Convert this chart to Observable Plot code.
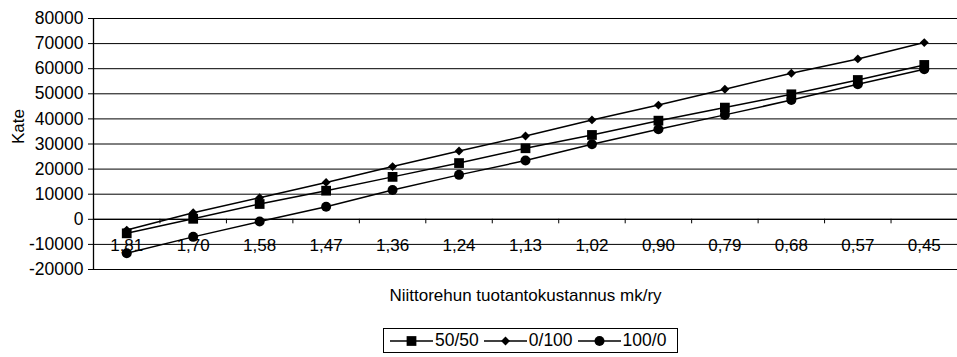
<!DOCTYPE html>
<html>
<head>
<meta charset="utf-8">
<script src="https://cdn.jsdelivr.net/npm/d3@7"></script>
<script src="https://cdn.jsdelivr.net/npm/@observablehq/plot@0.6"></script>
<style>
  html, body { margin: 0; padding: 0; background: #fff; }
  body { width: 957px; height: 357px; position: relative; overflow: hidden; font-family: "Liberation Sans", Arial, sans-serif; }
  #legend { position: absolute; left: 383px; top: 328px; width: 295px; height: 25px; border: 1px solid #000; box-sizing: border-box;
            display: flex; align-items: center; padding: 0 0 0 6px; font-size: 17.5px; color: #000; background: #fff; white-space: nowrap; }
  #legend .item { display: flex; align-items: center; margin-right: 5px; }
  #legend svg { display: block; margin-right: 2px; }
</style>
</head>
<body>
<div id="chart"></div>
<div id="legend"></div>
<script>
const categories = ["1,81","1,70","1,58","1,47","1,36","1,24","1,13","1,02","0,90","0,79","0,68","0,57","0,45"];
const seriesNames = ["50/50", "0/100", "100/0"];
const s5050 = [-5600, 200, 6100, 11400, 16900, 22400, 28300, 33600, 39300, 44500, 49800, 55500, 61500];
const s0100 = [-4300, 2600, 8600, 14700, 21000, 27200, 33200, 39600, 45500, 51800, 58200, 63900, 70400];
const s1000 = [-13500, -7000, -900, 5000, 11700, 17700, 23400, 29900, 35900, 41600, 47500, 53800, 59800];
const yTicks = [-20000, -10000, 0, 10000, 20000, 30000, 40000, 50000, 60000, 70000, 80000];

const seriesValues = [s5050, s0100, s1000];
const symbols = ["square", "diamond2", "circle"];
const radii = [5.5, 4, 5];

const rows = [];
seriesNames.forEach((name, s) => {
  seriesValues[s].forEach((v, i) => rows.push({series: name, i, value: v}));
});
const idx = categories.map((c, i) => ({i, label: c}));
const bounds = categories.slice(1).map((c, i) => i + 0.5);

const font = "Liberation Sans, Arial, sans-serif";

const chart = Plot.plot({
  width: 957,
  height: 318,
  marginTop: 18,
  marginLeft: 93,
  marginRight: 0,
  marginBottom: 49,
  style: {fontFamily: font, fontSize: "16px", color: "#000", background: "#fff"},
  x: {type: "linear", domain: [-0.5, categories.length - 0.5], axis: null},
  y: {domain: [-20000, 80000], axis: null},
  marks: [
    Plot.gridY(yTicks, {stroke: "#000", strokeOpacity: 1, strokeWidth: 1}),
    Plot.axisY(yTicks, {tickSize: 5, tickPadding: 5, tickFormat: d => String(d), label: null, fontSize: 17.5, stroke: "#000"}),
    Plot.ruleX([-0.5], {stroke: "#000", strokeWidth: 1.3}),
    Plot.ruleY([0], {stroke: "#000", strokeWidth: 1.3}),
    Plot.ruleX(bounds, {y1: 0, y2: -1800, stroke: "#000", strokeWidth: 1}),
    Plot.text(idx, {x: "i", y: () => 0, text: "label", dy: 26, fontSize: 17, fill: "#000"}),
    ...seriesNames.map((name, s) => Plot.line(rows.filter(d => d.series === name), {x: "i", y: "value", stroke: "#000", strokeWidth: 1.5})),
    ...seriesNames.map((name, s) => Plot.dot(rows.filter(d => d.series === name), {x: "i", y: "value", symbol: () => symbols[s], r: radii[s], fill: "#000", stroke: "none"})),
    Plot.text(["Kate"], {frameAnchor: "left", dx: -75, rotate: -90, fontSize: 17, fill: "#000"}),
    Plot.text(["Niittorehun tuotantokustannus mk/ry"], {frameAnchor: "bottom", dy: 31, fontSize: 17, fill: "#000"})
  ]
});
document.getElementById("chart").appendChild(chart);

// Legend
const legend = d3.select("#legend");
seriesNames.forEach((name, s) => {
  const item = legend.append("div").attr("class", "item");
  const svg = item.append("svg").attr("width", 43).attr("height", 14);
  svg.append("line").attr("x1", 0).attr("x2", 43).attr("y1", 7).attr("y2", 7).attr("stroke", "#000").attr("stroke-width", 1.4);
  const sym = s === 0 ? d3.symbolSquare : s === 1 ? d3.symbolDiamond2 : d3.symbolCircle;
  svg.append("path").attr("transform", "translate(21.5,7)").attr("d", d3.symbol(sym, Math.PI * radii[s] * radii[s])()).attr("fill", "#000");
  item.append("span").text(name);
});
</script>
</body>
</html>
